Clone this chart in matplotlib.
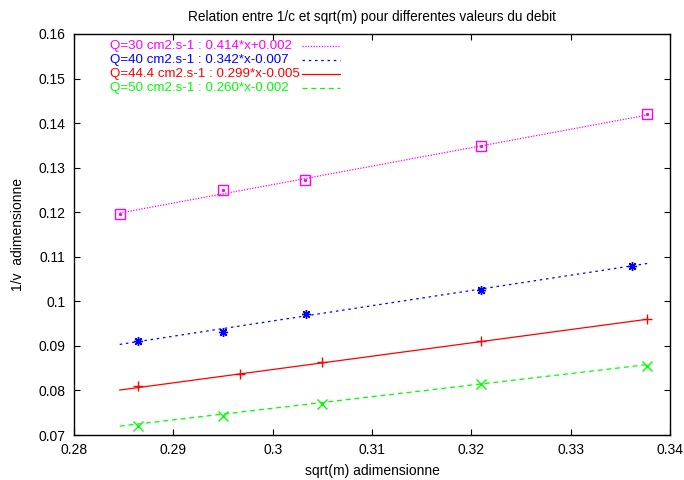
import numpy as np
from matplotlib import pyplot as plt
from matplotlib.ticker import FuncFormatter, MultipleLocator

plt.rcParams['font.family'] = ['Liberation Sans', 'DejaVu Sans']
plt.rcParams['font.size'] = 10

x_q30 = [0.2846, 0.2950, 0.3033, 0.3210, 0.3377]
y_q30 = [0.1196, 0.1249, 0.1272, 0.1349, 0.1420]
x_q40 = [0.2864, 0.2950, 0.3034, 0.3210, 0.3362]
y_q40 = [0.0912, 0.0931, 0.0971, 0.1026, 0.1079]
x_q44 = [0.2864, 0.2967, 0.3050, 0.3210, 0.3377]
y_q44 = [0.0809, 0.0837, 0.0863, 0.0912, 0.0960]
x_q50 = [0.2864, 0.2950, 0.3050, 0.3210, 0.3377]
y_q50 = [0.0721, 0.0743, 0.0770, 0.0814, 0.0854]

# fitted lines (a*x + b), as written in the key
labels = ['Q=30 cm2.s-1 : 0.414*x+0.002',
          'Q=40 cm2.s-1 : 0.342*x-0.007',
          'Q=44.4 cm2.s-1 : 0.299*x-0.005',
          'Q=50 cm2.s-1 : 0.260*x-0.002']
slopes = [0.414, 0.342, 0.299, 0.260]
offsets = [0.002, -0.007, -0.005, -0.002]
fit_range = [0.2846, 0.3377]

colors = ['#ff00ff', '#0000ff', '#ff0000', '#00ff00']
dashes = [(0, (1, 1.2)), (0, (2, 3)), '-', (0, (4, 3))]
markers = ['s', (8, 2, 0), '+', 'x']

fig = plt.figure(figsize=(6.84, 4.8), dpi=100)
ax = fig.add_axes([0.1082, 0.0937, 0.8713, 0.8355])

xs = [x_q30, x_q40, x_q44, x_q50]
ys = [y_q30, y_q40, y_q44, y_q50]
xf = np.array(fit_range)
for i in range(4):
    ax.plot(xf, slopes[i] * xf + offsets[i], color=colors[i], ls=dashes[i],
            lw=0.9)
    if markers[i] == 's':
        ax.plot(xs[i], ys[i], ls='none', marker='s', ms=6.5, mfc='none',
                mec=colors[i], mew=1.0)
        ax.plot(xs[i], ys[i], ls='none', marker='s', ms=1.2, color=colors[i])
    else:
        ax.plot(xs[i], ys[i], ls='none', marker=markers[i], ms=6.5,
                color=colors[i], mew=1.0)

    # gnuplot style key: left aligned text, sample line after it
    ky = 0.970 - 0.0349 * i
    ax.text(0.0604, ky, labels[i], color=colors[i], fontsize=9.6,
            ha='left', va='center', transform=ax.transAxes)
    ax.plot([0.3826, 0.4463], [ky, ky], color=colors[i], ls=dashes[i],
            lw=0.9, transform=ax.transAxes)

ax.set_xlim(0.28, 0.34)
ax.set_ylim(0.07, 0.16)
ax.xaxis.set_major_locator(MultipleLocator(0.01))
ax.yaxis.set_major_locator(MultipleLocator(0.01))
fmt = FuncFormatter(lambda v, p: '%g' % round(v, 4))
ax.xaxis.set_major_formatter(fmt)
ax.yaxis.set_major_formatter(fmt)
ax.tick_params(direction='in', length=4, width=0.8, top=True, right=True,
               labelsize=10, pad=6)
for s in ax.spines.values():
    s.set_linewidth(1.0)

ax.set_title('Relation entre 1/c et sqrt(m) pour differentes valeurs du debit',
             fontsize=9.8, pad=9)
ax.set_xlabel('sqrt(m) adimensionne', fontsize=10, labelpad=5)
ax.set_ylabel('1/v  adimensionne', fontsize=10, labelpad=10)

fig.savefig('out.png', dpi=100)
